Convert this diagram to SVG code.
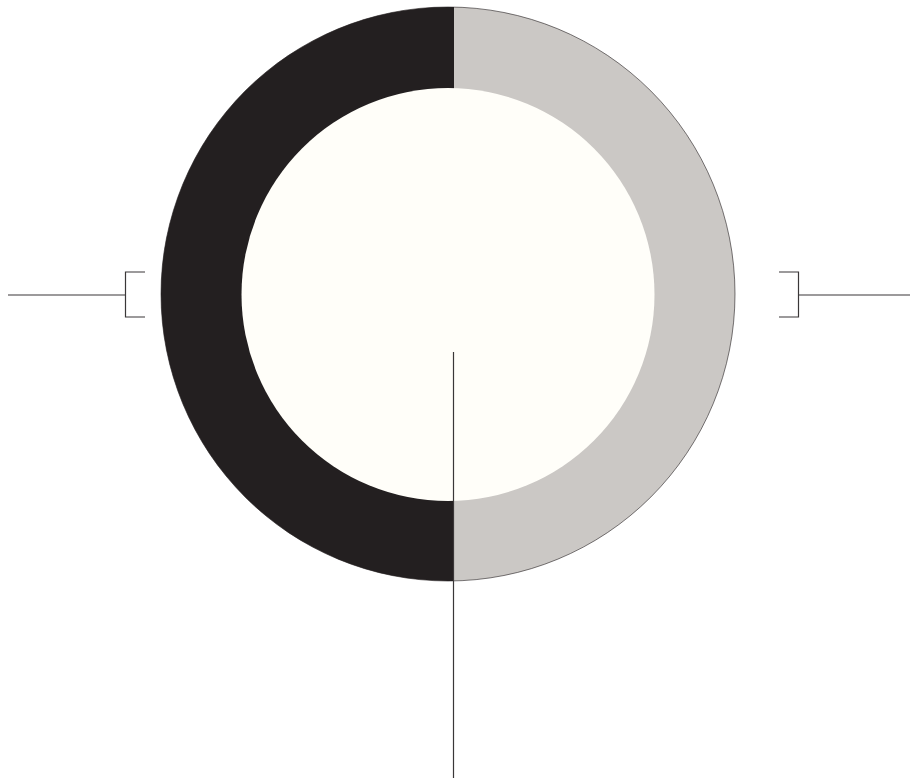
<svg xmlns="http://www.w3.org/2000/svg" width="910" height="778" viewBox="0 0 910 778">
<defs>
<style>
.ln{fill:none;stroke:#3a3738;stroke-width:1.2}
</style>
<clipPath id="leftHalf"><rect x="0" y="0" width="454" height="778"/></clipPath>
</defs>
<rect width="910" height="778" fill="#ffffff"/>
<g id="ring">
<circle cx="448" cy="294" r="287" fill="#cbc8c5" stroke="#231f20" stroke-width="0.6"/>
<circle cx="448" cy="294" r="287" fill="#231f20" clip-path="url(#leftHalf)"/>
<circle cx="448" cy="294.5" r="206.5" fill="#fffef9"/>
</g>
<g id="connectors">
<path class="ln" d="M8 295H125.5M145 272H125.5V317H145"/>
<path class="ln" d="M910 295H798.5M779 272H798.5V317H779"/>
<path class="ln" d="M453.5 352V778"/>
</g>
</svg>
